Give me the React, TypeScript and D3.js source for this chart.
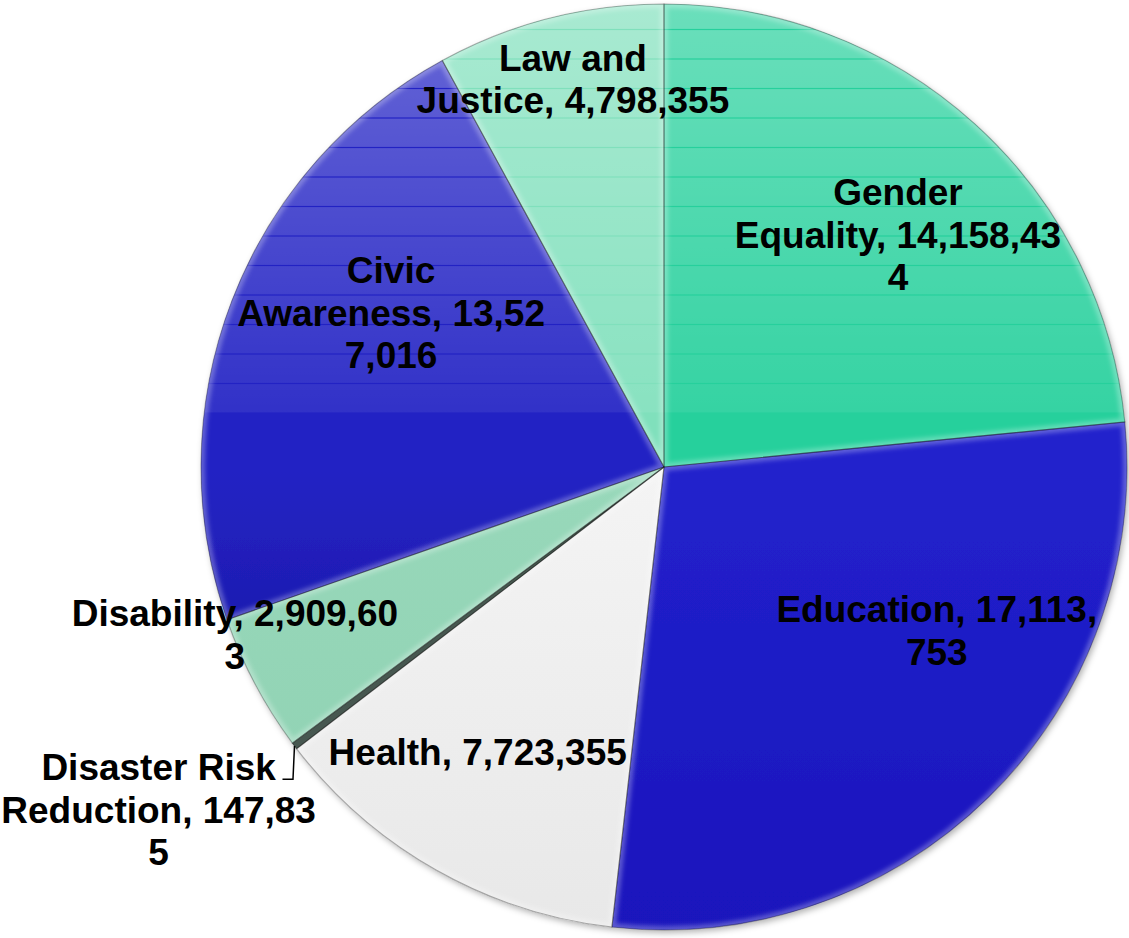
import React from "react";
import * as d3 from "d3";

const categories = [
  "Gender Equality",
  "Education",
  "Health",
  "Disaster Risk Reduction",
  "Disability",
  "Civic Awareness",
  "Law and Justice",
];
const values = [14158434, 17113753, 7723355, 147835, 2909603, 13527016, 4798355];
// character positions at which each label wraps (as in the reference)
const labelBreaks = [[6, 26], [18], [], [13, 31], [20], [5, 22], [7]];
// label placement: angle shift from the slice middle (degrees), radius as fraction of pie radius
const labelAngleShift = [3.0, -14.5, 3.7, 2.9, 6.6, 8.4, 1.1];
const labelRadius = [0.712, 0.687, 0.735, 1.319, 0.995, 0.677, 0.861];
const leaderFor = [false, false, false, true, false, false, false];

// gradient stops per slice: [offset, colour]
const sliceStops: [number, string][][] = [
  [[0, "#26d09c"], [0.22, "#08b880"], [0.45, "#03a476"], [1, "#028e68"]],
  [[0, "#2222cc"], [0.45, "#1a16be"], [1, "#1610ac"]],
  [[0, "#f4f4f4"], [0.5, "#e8e8e8"], [1, "#d6d6d6"]],
  [[0, "#061a10"], [1, "#04140c"]],
  [[0, "#98d8ba"], [0.6, "#8ccfb0"], [1, "#80c6a6"]],
  [[0, "#2424c4"], [0.4, "#130d96"], [0.5, "#130d90"], [1, "#110b84"]],
  [[0, "#80e0bc"], [0.47, "#76d0ad"], [1, "#6ec6a4"]],
];

const W = 1129;
const H = 938;
const cx = 664;
const cy = 467;
const R = 463;
const FS = 37;
const LH = 42.5;

function splitLabel(text: string, breaks: number[]): string[] {
  const out: string[] = [];
  let prev = 0;
  for (const b of breaks) {
    out.push(text.slice(prev, b).trim());
    prev = b;
  }
  out.push(text.slice(prev).trim());
  return out;
}

export default function App() {
  const fmt = d3.format(",");
  const pie = d3
    .pie<number>()
    .sort(null)
    .value((d) => d)
    .startAngle(0)
    .endAngle(2 * Math.PI);
  const arcs = pie(values);
  const arc = d3.arc<d3.PieArcDatum<number>>().innerRadius(0).outerRadius(R);

  const nBands = 14;
  const glossBottom = 413;
  const bandH = glossBottom / nBands;
  const bands = d3.range(nBands);

  return (
    <svg
      width={W}
      height={H}
      style={{ position: "absolute", left: 0, top: 0, display: "block", background: "#fff" }}
    >
      <defs>
        {sliceStops.map((s, i) => (
          <linearGradient
            key={i}
            id={`g${i}`}
            gradientUnits="userSpaceOnUse"
            x1={0}
            x2={0}
            y1={cy - R}
            y2={cy + R}
          >
            {s.map(([o, c], j) => (
              <stop key={j} offset={o} stopColor={c} />
            ))}
          </linearGradient>
        ))}
        <linearGradient id="gloss" gradientUnits="userSpaceOnUse" x1={0} x2={0} y1={0} y2={glossBottom}>
          <stop offset="0" stopColor="#fff" stopOpacity={0.32} />
          <stop offset="1" stopColor="#fff" stopOpacity={0.07} />
        </linearGradient>
        <clipPath id="pieclip">
          <circle cx={cx} cy={cy} r={R} />
        </clipPath>
        {arcs.map((a, i) => (
          <clipPath key={i} id={`c${i}`}>
            <path d={arc(a) || ""} transform={`translate(${cx},${cy})`} />
          </clipPath>
        ))}
        <filter id="shadow" x="-10%" y="-10%" width="120%" height="120%">
          <feDropShadow dx={2} dy={3} stdDeviation={3} floodColor="#000" floodOpacity={0.3} />
        </filter>
        <filter id="soft" x="-10%" y="-10%" width="120%" height="120%">
          <feGaussianBlur stdDeviation={2} />
        </filter>
      </defs>

      <g filter="url(#shadow)">
        <g transform={`translate(${cx},${cy})`}>
          {arcs.map((a, i) => (
            <path key={i} d={arc(a) || ""} fill={`url(#g${i})`} />
          ))}
        </g>
      </g>

      {/* bevel highlights */}
      {arcs.map((a, i) => (
        <g key={i} clipPath={`url(#c${i})`}>
          <path
            d={arc(a) || ""}
            transform={`translate(${cx},${cy})`}
            fill="none"
            stroke="#fff"
            strokeOpacity={0.28}
            strokeWidth={8}
            filter="url(#soft)"
          />
        </g>
      ))}

      {/* gloss bands */}
      <g clipPath="url(#pieclip)">
        {bands.map((b) => (
          <rect
            key={b}
            x={cx - R}
            y={b * bandH + 0.6}
            width={2 * R}
            height={bandH - 1.2}
            fill="url(#gloss)"
          />
        ))}
      </g>

      <g transform={`translate(${cx},${cy})`}>
        {arcs.map((a, i) => (
          <path
            key={i}
            d={arc(a) || ""}
            fill="none"
            stroke="#000"
            strokeOpacity={0.3}
            strokeWidth={1.1}
          />
        ))}
      </g>

      {/* labels */}
      <g fontFamily="'Liberation Sans', Arial, sans-serif" fontWeight="bold" fontSize={FS} fill="#000">
        {arcs.map((a, i) => {
          const mid = (a.startAngle + a.endAngle) / 2;
          const ang = mid + (labelAngleShift[i] * Math.PI) / 180;
          const rr = labelRadius[i] * R;
          const lx = cx + rr * Math.sin(ang);
          const ly = cy - rr * Math.cos(ang);
          const lines = splitLabel(`${categories[i]}, ${fmt(values[i])}`, labelBreaks[i]);
          const firstBase = ly - ((lines.length - 1) * LH) / 2 + 13;
          let leader: string | null = null;
          if (leaderFor[i]) {
            const ex = cx + R * Math.sin(mid);
            const ey = cy - R * Math.cos(mid);
            leader = `M${ex},${ey}L${ex - 1.5},${firstBase - 1}L${ex - 12},${firstBase - 1}`;
          }
          return (
            <g key={i}>
              {leader && <path d={leader} fill="none" stroke="#000" strokeWidth={1.5} />}
              <text textAnchor="middle">
                {lines.map((ln, j) => (
                  <tspan key={j} x={lx} y={firstBase + j * LH}>
                    {ln}
                  </tspan>
                ))}
              </text>
            </g>
          );
        })}
      </g>
    </svg>
  );
}
